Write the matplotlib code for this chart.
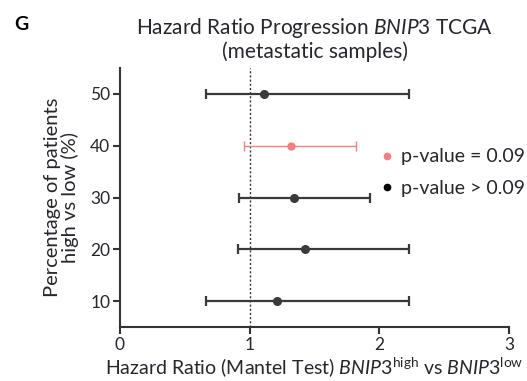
import matplotlib
matplotlib.use('Agg')
import matplotlib.pyplot as plt
import numpy as np

# 数据
pct = [50, 40, 30, 20, 10]
hr = [1.11, 1.32, 1.34, 1.43, 1.21]
ci_low = [0.66, 0.96, 0.92, 0.91, 0.66]
ci_high = [2.23, 1.82, 1.93, 2.23, 2.23]
significant = [False, True, False, False, False]

plt.rcParams['font.family'] = ['Lato', 'DejaVu Sans']
plt.rcParams['mathtext.fontset'] = 'custom'
plt.rcParams['mathtext.rm'] = 'Lato'
plt.rcParams['mathtext.it'] = 'Lato:italic'

txt_col = '#26262e'
fig = plt.figure(figsize=(5.27, 3.81), dpi=100)
ax = fig.add_axes([0.2277, 0.1417, 0.7381, 0.6798])

for y, m, lo, hi, sig in zip(pct, hr, ci_low, ci_high, significant):
    col = '#f47f82' if sig else '#3a3a3a'
    lw = 1.0 if sig else 1.6
    ax.errorbar(m, y, xerr=[[m - lo], [hi - m]], fmt='o', color=col, ecolor=col,
                elinewidth=lw, capsize=3.5, capthick=lw, markersize=5 if sig else 5.5)

ax.axvline(1, linestyle=(0, (1.5, 1.5)), color='#333333', linewidth=1.0, zorder=0)

ax.set_xlim(0, 3)
ax.set_ylim(5, 55)
ax.set_xticks([0, 1, 2, 3])
ax.set_yticks([10, 20, 30, 40, 50])
for s in ['top', 'right']:
    ax.spines[s].set_visible(False)
for s in ['left', 'bottom']:
    ax.spines[s].set_linewidth(1.5)
    ax.spines[s].set_color('#333333')
ax.tick_params(direction='out', length=5, width=1.5, colors='#333333',
               labelsize=12.5, labelcolor=txt_col, pad=2)

# legend（手动放置）
ax.plot([], [], 'o', color='#f47f82', markersize=4.5, label='p-value = 0.09')
ax.plot([], [], 'o', color='black', markersize=4.5, label='p-value > 0.09')
ax.legend(loc='center left', bbox_to_anchor=(0.663, 0.596), frameon=False,
          borderaxespad=0, borderpad=0,
          handletextpad=0.3, handlelength=0.9, labelspacing=0.75,
          fontsize=14, labelcolor=txt_col)

ax.set_ylabel('Percentage of patients\nhigh vs low (%)', fontsize=14.5, color=txt_col,
              labelpad=8, linespacing=1.0)
ax.set_xlabel(r'Hazard Ratio (Mantel Test) $\mathit{BNIP3}^{\mathrm{high}}$ vs $\mathit{BNIP3}^{\mathrm{low}}$',
              fontsize=14, color=txt_col, labelpad=2)
fig.text(0.5968, 0.958, r'Hazard Ratio Progression $\mathit{BNIP3}$ TCGA' + '\n(metastatic samples)',
         ha='center', va='top', fontsize=15, color=txt_col, linespacing=1.1)
fig.text(0.04, 0.937, 'G', fontsize=14, fontweight='bold', ha='center', va='center', color='black')

plt.savefig('out.png', dpi=100)
